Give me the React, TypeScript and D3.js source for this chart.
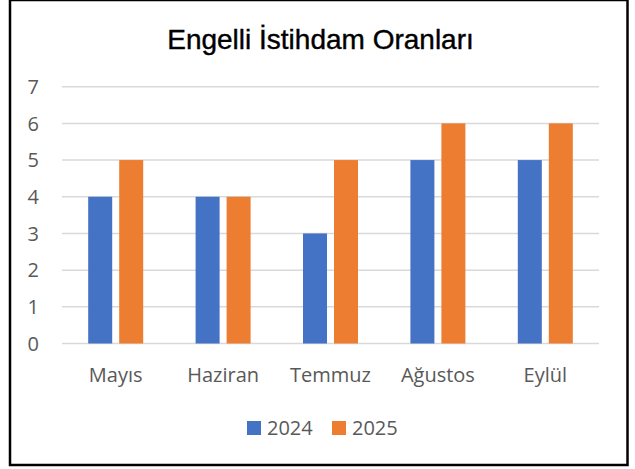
import { useEffect, useRef } from 'react'
import * as d3 from 'd3'

// Chart data
const months = ['Mayıs', 'Haziran', 'Temmuz', 'Ağustos', 'Eylül']
const seriesNames = ['2024', '2025']
const values2024 = [4, 4, 3, 5, 5]
const values2025 = [5, 4, 5, 6, 6]
const yTicks = [0, 1, 2, 3, 4, 5, 6, 7]
const colors = ['#4472C4', '#ED7D31']

const WIDTH = 635
const HEIGHT = 469
const FONT = '"Open Sans", "Noto Sans", sans-serif'

export default function App() {
  const svgRef = useRef<SVGSVGElement | null>(null)

  useEffect(() => {
    document.body.style.margin = '0'
    if (!svgRef.current) return
    const svg = d3.select(svgRef.current)
    svg.selectAll('*').remove()

    // background + frame
    svg.append('rect').attr('width', WIDTH).attr('height', HEIGHT).attr('fill', '#fff')
    svg.append('rect')
      .attr('x', 10).attr('y', 0)
      .attr('width', 617.5).attr('height', 465)
      .attr('fill', 'none')
      .attr('stroke', '#000')
      .attr('stroke-width', 2.5)

    // title
    svg.append('text')
      .attr('x', 320.5)
      .attr('y', 48.5)
      .attr('text-anchor', 'middle')
      .attr('font-family', '"Liberation Sans", Arial, sans-serif')
      .attr('font-size', 28)
      .attr('fill', '#000')
      .attr('stroke', '#000')
      .attr('stroke-width', 0.4)
      .text('Engelli İstihdam Oranları')

    const left = 62
    const right = 599
    const x = d3.scaleBand().domain(months).range([left, right])
    const y = d3.scaleLinear().domain([0, 7]).range([343.5, 86.7])

    // gridlines
    svg.append('g')
      .selectAll('line')
      .data(yTicks)
      .join('line')
      .attr('x1', left)
      .attr('x2', right)
      .attr('y1', d => y(d))
      .attr('y2', d => y(d))
      .attr('stroke', '#D9D9D9')
      .attr('stroke-width', 1.5)

    // y tick labels
    svg.append('g')
      .selectAll('text')
      .data(yTicks)
      .join('text')
      .attr('x', 39)
      .attr('y', d => y(d))
      .attr('dy', '0.36em')
      .attr('text-anchor', 'end')
      .attr('font-family', FONT)
      .attr('font-size', 20)
      .attr('fill', '#595959')
      .text(d => d)

    // bars
    const barW = 24
    const gap = 7
    const series = [values2024, values2025]
    series.forEach((vals, si) => {
      svg.append('g')
        .selectAll('rect')
        .data(vals)
        .join('rect')
        .attr('x', (d, i) => {
          const c = x(months[i])! + x.bandwidth() / 2
          return si === 0 ? c - gap / 2 - barW : c + gap / 2
        })
        .attr('y', d => y(d))
        .attr('width', barW)
        .attr('height', d => y(0) - y(d))
        .attr('fill', colors[si])
    })

    // x labels
    svg.append('g')
      .selectAll('text')
      .data(months)
      .join('text')
      .attr('x', d => x(d)! + x.bandwidth() / 2)
      .attr('y', 382)
      .attr('text-anchor', 'middle')
      .attr('font-family', FONT)
      .attr('font-size', 20)
      .attr('fill', '#595959')
      .text(d => d)

    // legend
    const legendX = [247, 332]
    seriesNames.forEach((name, i) => {
      svg.append('rect')
        .attr('x', legendX[i])
        .attr('y', 421)
        .attr('width', 14)
        .attr('height', 14)
        .attr('fill', colors[i])
      svg.append('text')
        .attr('x', legendX[i] + 20)
        .attr('y', 435)
        .attr('font-family', FONT)
        .attr('font-size', 20)
        .attr('fill', '#595959')
        .text(name)
    })
  }, [])

  return <svg ref={svgRef} width={WIDTH} height={HEIGHT} style={{ display: 'block' }} />
}
